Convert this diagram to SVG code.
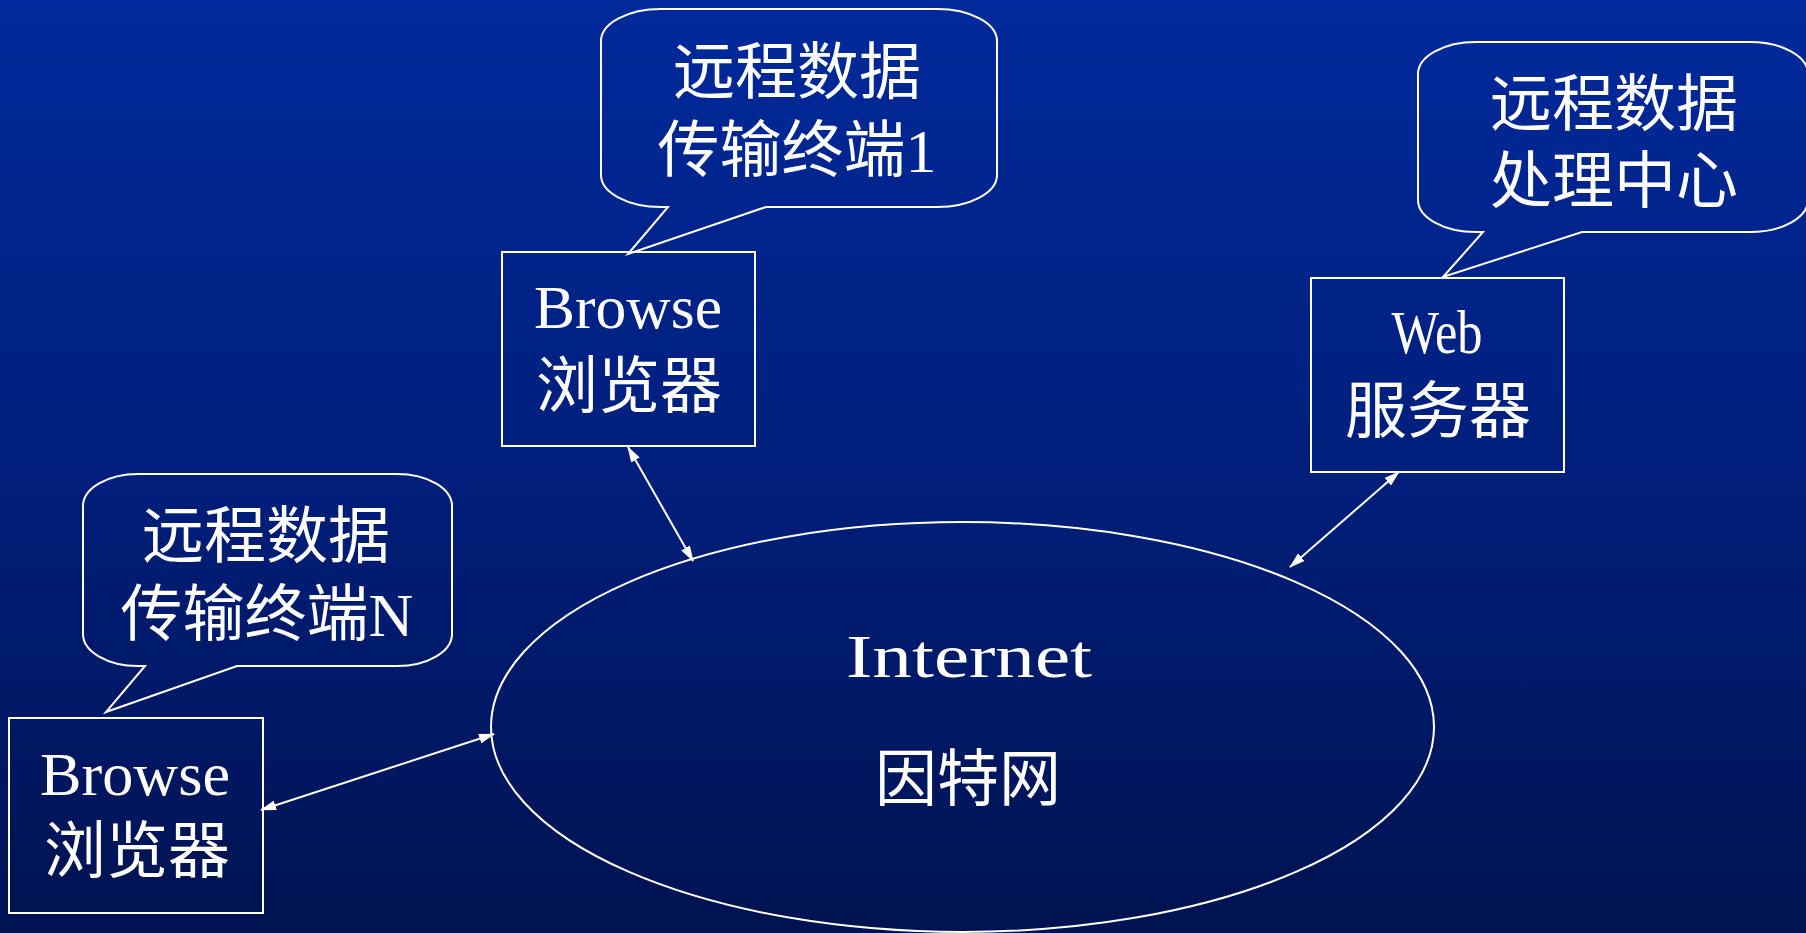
<svg xmlns="http://www.w3.org/2000/svg" width="1806" height="933" viewBox="0 0 1806 933">
<defs>
<linearGradient id="bg" x1="0" y1="0" x2="0" y2="1">
<stop offset="0" stop-color="#00299B"/>
<stop offset="0.5" stop-color="#001F7C"/>
<stop offset="1" stop-color="#001250"/>
</linearGradient>
<marker id="ah" viewBox="0 0 16 10" refX="15" refY="5" markerWidth="16" markerHeight="10" markerUnits="userSpaceOnUse" orient="auto-start-reverse">
<path d="M0,0 L16,5 L0,10 Z" fill="#ffffff"/>
</marker>
<style>
.shape{fill:none;stroke:#ffffff;stroke-width:2}
.conn{fill:none;stroke:#ffffff;stroke-width:2;marker-start:url(#ah);marker-end:url(#ah)}
.t{fill:#ffffff;font-family:"Liberation Serif","Noto Sans CJK SC",serif;font-size:62px;text-anchor:middle}
</style>
</defs>
<rect x="0" y="0" width="1806" height="933" fill="url(#bg)"/>

<g id="connectors">
<line class="conn" x1="628" y1="447" x2="693" y2="561"/>
<line class="conn" x1="1399" y1="472" x2="1290" y2="567"/>
<line class="conn" x1="261" y1="810" x2="494" y2="734"/>
</g>

<g id="callout-terminal-1">
<path class="shape" d="M766,207 H937 A60,32 0 0 0 997,175 V41 A60,32 0 0 0 937,9 H661 A60,32 0 0 0 601,41 V175 A60,32 0 0 0 661,207 H668 L628,254 Z"/>
<text class="t" x="797" y="94">远程数据</text>
<text class="t" x="797" y="172">传输终端1</text>
</g>

<g id="browser-1">
<rect class="shape" x="502" y="252" width="253" height="194"/>
<text class="t" x="628" y="328" font-size="64" textLength="188" lengthAdjust="spacingAndGlyphs">Browse</text>
<text class="t" x="629" y="408">浏览器</text>
</g>

<g id="callout-center">
<path class="shape" d="M1582,232 H1750 A58,32 0 0 0 1808,200 V74 A58,32 0 0 0 1750,42 H1476 A58,32 0 0 0 1418,74 V200 A58,32 0 0 0 1476,232 H1483 L1443,277 Z"/>
<text class="t" x="1614" y="126">远程数据</text>
<text class="t" x="1614" y="203">处理中心</text>
</g>

<g id="web-server">
<rect class="shape" x="1311" y="278" width="253" height="194"/>
<text class="t" x="1437" y="353" font-size="64" textLength="91" lengthAdjust="spacingAndGlyphs">Web</text>
<text class="t" x="1438" y="433">服务器</text>
</g>

<g id="callout-terminal-n">
<path class="shape" d="M237,666 H397 A55,32 0 0 0 452,634 V506 A55,32 0 0 0 397,474 H138 A55,32 0 0 0 83,506 V634 A55,32 0 0 0 138,666 H145 L106,712 Z"/>
<text class="t" x="266" y="558">远程数据</text>
<text class="t" x="267" y="636">传输终端N</text>
</g>

<g id="browser-n">
<rect class="shape" x="9" y="718" width="254" height="195"/>
<text class="t" x="135" y="795" font-size="64" textLength="190" lengthAdjust="spacingAndGlyphs">Browse</text>
<text class="t" x="137" y="873">浏览器</text>
</g>

<g id="internet">
<ellipse class="shape" cx="962.5" cy="727" rx="471.5" ry="205"/>
<text class="t" x="969" y="677" font-size="64" textLength="246" lengthAdjust="spacingAndGlyphs">Internet</text>
<text class="t" x="968" y="801">因特网</text>
</g>
</svg>
